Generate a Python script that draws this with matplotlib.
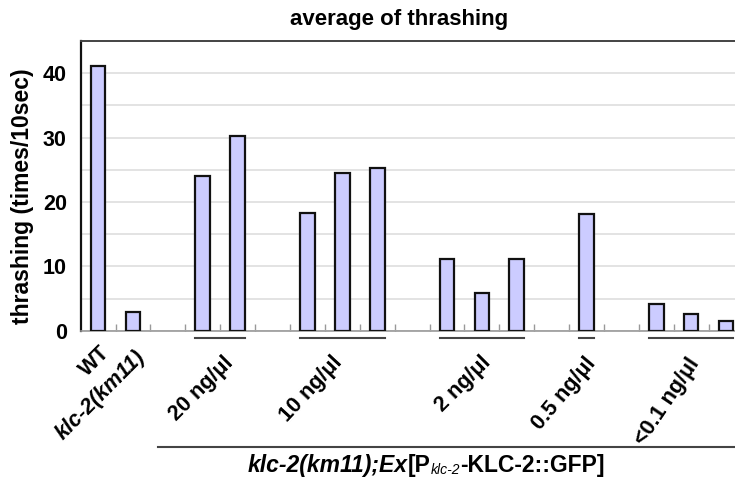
import matplotlib
matplotlib.use("Agg")
import matplotlib.pyplot as plt
from matplotlib.lines import Line2D
import matplotlib.transforms as mtransforms

plt.rcParams['font.family'] = ['Liberation Sans', 'DejaVu Sans']

# ---- data ----
group_labels = ["WT", "klc-2(km11)", "20 ng/\u03bcl", "10 ng/\u03bcl", "2 ng/\u03bcl", "0.5 ng/\u03bcl", "<0.1 ng/\u03bcl"]
group_values = [
    [41.1],
    [2.9],
    [24.1, 30.2],
    [18.3, 24.5, 25.2],
    [11.1, 5.9, 11.1],
    [18.1],
    [4.2, 2.6, 1.5],
]
gap_before = [0, 0, 1, 1, 1, 1, 1]   # empty slots before each group
underlined = [False, False, True, True, True, True, True]
label_rot = [45, 45, 45, 47, 45, 50, 56]
label_dx = [0.25, 0.25, 0.3, -0.1, 0.16, 0.16, 0.11]
label_y = [-0.064, -0.08, -0.1, -0.1, -0.1, -0.1, -0.1]
title = "average of thrashing"
ylabel = "thrashing (times/10sec)"
yticks = [0, 10, 20, 30, 40]

# ---- layout ----
W, H = 735, 483
fig = plt.figure(figsize=(W / 100, H / 100), dpi=100)
ax_left, ax_right, ax_bot, ax_top = 80.7, 743.5, 330.7, 41
ax = fig.add_axes([ax_left / W, 1 - ax_bot / H, (ax_right - ax_left) / W, (ax_bot - ax_top) / H])

positions = []
group_pos = []
slot = 0
for vals, gap in zip(group_values, gap_before):
    slot += gap
    ps = []
    for v in vals:
        ps.append(slot)
        slot += 1
    group_pos.append(ps)
    positions.extend(ps)
values = [v for vals in group_values for v in vals]
nslots = slot

bw = 0.42
ax.bar(positions, values, width=bw, color="#CCCCFF", edgecolor="#111111", linewidth=1.6, zorder=3)

ax.set_xlim(-0.5, nslots - 0.5)
ax.set_ylim(0, 45)
ax.set_yticks(yticks)
ax.set_yticks(range(0, 46, 5), minor=True)
ax.yaxis.grid(True, which="both", color="#E3E3E3", linewidth=1.4, zorder=0)
ax.tick_params(axis="y", which="both", length=0, pad=10, labelsize=15.5)
for t in ax.get_yticklabels():
    t.set_fontweight("bold")

ax.set_xticks([k - 0.5 for k in range(1, nslots)])
ax.set_xticklabels([])
ax.tick_params(axis="x", direction="in", length=5, color="#999999", width=1)

ax.spines["left"].set_linewidth(1.6)
ax.spines["left"].set_color("#111111")
ax.spines["top"].set_linewidth(1.4)
ax.spines["top"].set_color("#444444")
ax.spines["bottom"].set_linewidth(1.2)
ax.spines["bottom"].set_color("#999999")
ax.spines["right"].set_visible(False)

trans = mtransforms.blended_transform_factory(ax.transData, ax.transAxes)
for lab, ps, ul, rot, dx, ly in zip(group_labels, group_pos, underlined, label_rot, label_dx, label_y):
    c = (ps[0] + ps[-1]) / 2
    style = "italic" if lab.startswith("klc") else "normal"
    ax.text(c + dx, ly, lab, transform=trans, rotation=rot, ha="right", va="center",
            rotation_mode="anchor", fontsize=15.5, fontweight="bold", fontstyle=style)
    if ul:
        ax.add_line(Line2D([ps[0] - bw / 2, ps[-1] + bw / 2], [-0.025, -0.025], transform=trans,
                           color="#444444", linewidth=1.5, clip_on=False))

fig.add_artist(Line2D([158 / W, 1.0], [1 - 447 / H, 1 - 447 / H], transform=fig.transFigure,
                      color="#444444", linewidth=1.5))

fig.text(399 / W, 1 - 19 / H, title, ha="center", va="center", fontsize=16, fontweight="bold")
fig.text(23 / W, 1 - 196 / H, ylabel, ha="center", va="center", rotation=90, fontsize=16.5, fontweight="bold")

# composite bottom label
pieces = [
    ("klc-2(km11);Ex", dict(fontsize=16.5, fontweight="bold", fontstyle="italic"), 0),
    ("[P", dict(fontsize=16.5, fontweight="bold"), 0),
    ("klc-2", dict(fontsize=10, fontstyle="italic"), -1.5),
    ("-KLC-2::GFP]", dict(fontsize=16.5, fontweight="bold"), 0),
]
renderer = fig.canvas.get_renderer()
texts = []
widths = []
for s, kw, dy in pieces:
    t = fig.text(0, 0, s, ha="left", va="baseline", **kw)
    bb = t.get_window_extent(renderer)
    texts.append((t, dy))
    widths.append(bb.width)
total = sum(widths)
x = 426 - total / 2
base = H - 472
for (t, dy), w in zip(texts, widths):
    t.set_position((x / W, (base + dy) / H))
    x += w

fig.savefig("out.png", dpi=100)
